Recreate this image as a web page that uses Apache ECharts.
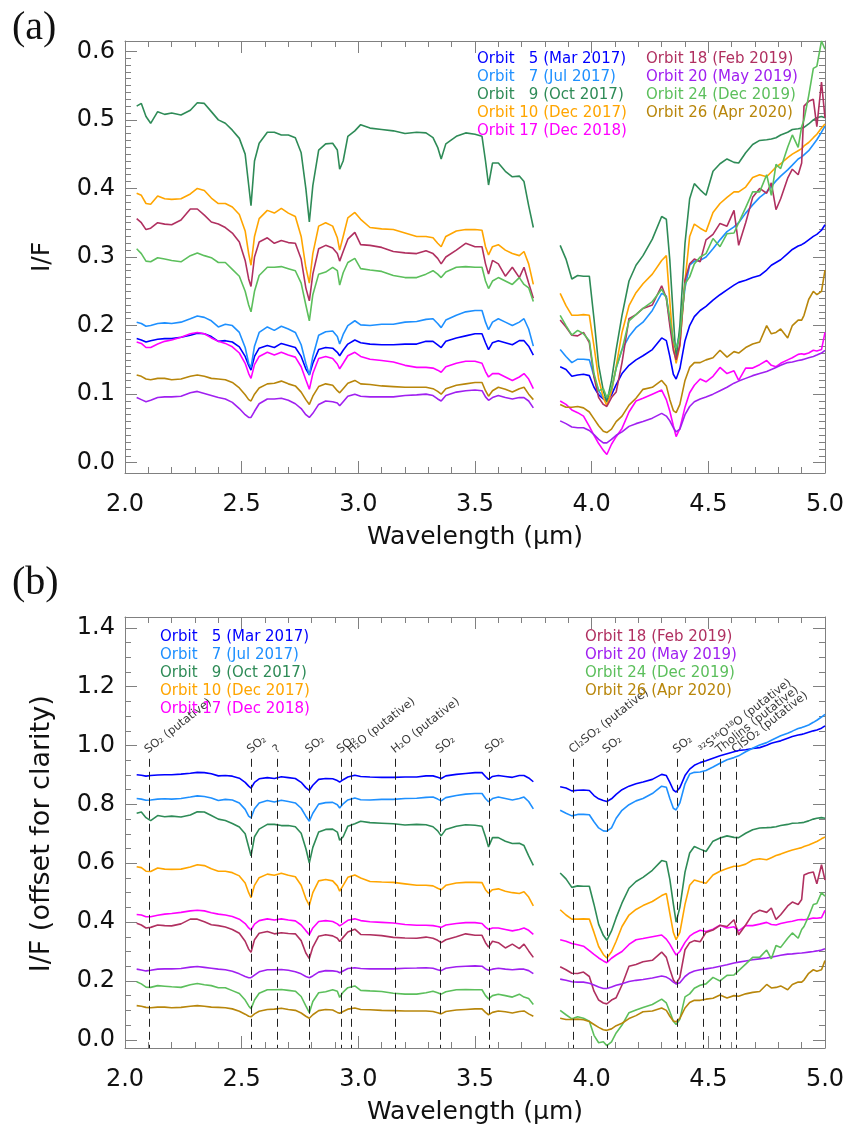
<!DOCTYPE html>
<html>
<head>
<meta charset="utf-8">
<script src="https://cdn.jsdelivr.net/npm/echarts@6/dist/echarts.min.js"></script>
<style>
  html, body { margin: 0; padding: 0; background: #fff; }
  #main { width: 852px; height: 1128px; }
</style>
</head>
<body>
<div id="main"></div>
<script>
// wavelength grid in µm; 3.81 marks the gap between the two spectral segments
const wavelength = [
  2.05, 2.07, 2.09, 2.11, 2.14, 2.17, 2.20, 2.24, 2.28, 2.31,
  2.34, 2.37, 2.40, 2.43, 2.46, 2.49, 2.515, 2.53, 2.54, 2.555,
  2.575, 2.61, 2.64, 2.67, 2.70, 2.73, 2.755, 2.775, 2.79, 2.805,
  2.83, 2.86, 2.89, 2.91, 2.92, 2.935, 2.955, 2.985, 3.01, 3.05,
  3.10, 3.15, 3.20, 3.25, 3.29, 3.32, 3.34, 3.355, 3.375, 3.42,
  3.46, 3.50, 3.53, 3.545, 3.558, 3.575, 3.60, 3.63, 3.66, 3.69,
  3.71, 3.73, 3.75,
  3.81,
  3.865, 3.89, 3.915, 3.94, 3.965, 3.99, 4.01, 4.03, 4.05, 4.065,
  4.085, 4.105, 4.13, 4.16, 4.19, 4.22, 4.26, 4.30, 4.32, 4.335,
  4.35, 4.362, 4.378, 4.40, 4.42, 4.44, 4.465, 4.49, 4.52, 4.55,
  4.58, 4.61, 4.63, 4.66, 4.69, 4.72, 4.75, 4.77, 4.79, 4.81,
  4.84, 4.86, 4.885, 4.90, 4.91, 4.93, 4.95, 4.965, 4.985, 5.0
];

// I/F for each orbit (panel a), null = gap
const orbit5 = [
  0.181, 0.179, 0.176, 0.178, 0.18, 0.181, 0.181, 0.183, 0.186, 0.189,
  0.188, 0.184, 0.177, 0.178, 0.176, 0.169, 0.155, 0.142, 0.135, 0.155,
  0.167, 0.171, 0.168, 0.174, 0.171, 0.168, 0.155, 0.137, 0.128, 0.145,
  0.165, 0.168, 0.167, 0.161, 0.156, 0.164, 0.173, 0.179, 0.175, 0.173,
  0.172, 0.172, 0.173, 0.173, 0.177, 0.177, 0.172, 0.168, 0.177, 0.182,
  0.185, 0.188, 0.188, 0.175, 0.165, 0.175, 0.178, 0.175, 0.172, 0.178,
  0.178, 0.17, 0.157,
  null,
  0.14, 0.136, 0.126, 0.128, 0.129, 0.127, 0.11, 0.099, 0.093, 0.09,
  0.099, 0.114, 0.13, 0.142, 0.15, 0.156, 0.165, 0.182, 0.178, 0.155,
  0.129, 0.122, 0.137, 0.178, 0.2, 0.213, 0.222, 0.228, 0.237, 0.245,
  0.252, 0.259, 0.263, 0.266, 0.27, 0.273, 0.281, 0.288, 0.292, 0.296,
  0.305, 0.311, 0.316, 0.318, 0.32, 0.325, 0.33, 0.333, 0.339, 0.347
];
const orbit7 = [
  0.205, 0.203, 0.199, 0.2, 0.203, 0.204, 0.203, 0.205, 0.21, 0.214,
  0.212, 0.207, 0.198, 0.202, 0.2, 0.19, 0.168, 0.145, 0.139, 0.17,
  0.19, 0.198, 0.193, 0.199, 0.195, 0.19, 0.172, 0.145, 0.128, 0.155,
  0.186, 0.191, 0.192, 0.184, 0.173, 0.187, 0.2, 0.207, 0.201, 0.2,
  0.202, 0.202, 0.205, 0.206, 0.209, 0.21, 0.203, 0.197, 0.208, 0.215,
  0.22, 0.222, 0.222, 0.205, 0.194, 0.205, 0.21, 0.205, 0.2, 0.205,
  0.21, 0.195, 0.17,
  null,
  0.165, 0.155, 0.146, 0.151, 0.151, 0.15, 0.126, 0.105, 0.095, 0.094,
  0.105, 0.138, 0.165, 0.184, 0.197, 0.205, 0.222, 0.247, 0.243, 0.205,
  0.172, 0.166, 0.19, 0.255, 0.288, 0.294, 0.295, 0.3, 0.312, 0.325,
  0.337, 0.344, 0.35, 0.364, 0.376, 0.387, 0.395, 0.403, 0.411, 0.418,
  0.427, 0.434, 0.443, 0.446, 0.449, 0.455, 0.464, 0.471, 0.482, 0.491
];
const orbit9 = [
  0.52, 0.524, 0.505, 0.495, 0.512, 0.508, 0.51, 0.507, 0.514, 0.525,
  0.524, 0.512, 0.5, 0.495, 0.485, 0.473, 0.45, 0.405, 0.375, 0.44,
  0.466, 0.482, 0.482, 0.478, 0.478, 0.474, 0.452, 0.4, 0.351, 0.404,
  0.456, 0.465, 0.466, 0.456, 0.428, 0.44, 0.476, 0.484, 0.493, 0.488,
  0.486, 0.484, 0.48, 0.482, 0.481, 0.474, 0.46, 0.443, 0.465, 0.476,
  0.481, 0.479, 0.476, 0.44, 0.405, 0.437, 0.437, 0.425, 0.417, 0.418,
  0.41, 0.375, 0.343,
  null,
  0.317, 0.297, 0.268, 0.273, 0.272, 0.272, 0.21, 0.142, 0.105, 0.088,
  0.12, 0.165, 0.215, 0.265, 0.288, 0.302, 0.326, 0.359, 0.355, 0.295,
  0.212, 0.15, 0.2, 0.32, 0.385, 0.407, 0.398, 0.39, 0.425, 0.436,
  0.443, 0.438, 0.437, 0.452, 0.464, 0.47, 0.471, 0.472, 0.474, 0.478,
  0.482, 0.486, 0.487, 0.488, 0.489, 0.494, 0.5, 0.503, 0.505, 0.503
];
const orbit10 = [
  0.393, 0.39, 0.378, 0.377, 0.389, 0.385, 0.384, 0.385, 0.392, 0.4,
  0.397, 0.386, 0.378, 0.378, 0.373, 0.362, 0.338, 0.305, 0.288, 0.33,
  0.356, 0.368, 0.364, 0.371, 0.364, 0.359, 0.33, 0.285, 0.262, 0.305,
  0.345, 0.35, 0.345, 0.328, 0.31, 0.33, 0.357, 0.365, 0.355, 0.343,
  0.341, 0.34, 0.335, 0.33, 0.33, 0.328, 0.32, 0.315, 0.33, 0.338,
  0.34, 0.34, 0.339, 0.315, 0.303, 0.315, 0.318, 0.31, 0.305, 0.302,
  0.308, 0.29, 0.26,
  null,
  0.247, 0.229, 0.215, 0.215, 0.216, 0.215, 0.17, 0.122, 0.095, 0.083,
  0.104, 0.14, 0.19, 0.229, 0.248, 0.261, 0.275, 0.295, 0.302, 0.235,
  0.17, 0.145, 0.17, 0.265, 0.33, 0.348, 0.342, 0.337, 0.365, 0.378,
  0.387, 0.395, 0.395, 0.402, 0.416, 0.42, 0.417, 0.424, 0.431, 0.436,
  0.445, 0.45, 0.455, 0.458, 0.462, 0.467, 0.474, 0.479, 0.488, 0.494
];
const orbit17 = [
  0.176, 0.174, 0.168, 0.168, 0.173, 0.177, 0.179, 0.183, 0.188, 0.19,
  0.188, 0.182, 0.177, 0.174, 0.169, 0.16, 0.145, 0.13, 0.123, 0.143,
  0.155, 0.161, 0.157, 0.161, 0.157, 0.154, 0.14, 0.121, 0.107, 0.13,
  0.152, 0.155, 0.152, 0.144, 0.137, 0.145, 0.156, 0.161, 0.155, 0.151,
  0.149, 0.147, 0.142, 0.139, 0.139, 0.138, 0.135, 0.132, 0.14, 0.145,
  0.148, 0.148, 0.145, 0.133, 0.125, 0.13, 0.13, 0.125, 0.12, 0.125,
  0.13, 0.122, 0.108,
  null,
  0.09, 0.085, 0.077, 0.073, 0.068, 0.053, 0.04, 0.028, 0.018, 0.012,
  0.027, 0.038, 0.05, 0.074, 0.09, 0.094, 0.1, 0.106, 0.092, 0.075,
  0.054, 0.038, 0.05, 0.081, 0.102, 0.113, 0.122, 0.118, 0.126, 0.139,
  0.13, 0.134, 0.12, 0.138, 0.138, 0.143, 0.149, 0.142, 0.14, 0.145,
  0.15, 0.153, 0.158, 0.159, 0.158, 0.16, 0.164, 0.163, 0.165, 0.19
];
const orbit18 = [
  0.356, 0.35, 0.34, 0.342, 0.35, 0.348, 0.347, 0.354, 0.37, 0.37,
  0.361, 0.351, 0.348, 0.343, 0.335, 0.322, 0.295, 0.268, 0.257, 0.3,
  0.322, 0.328, 0.32, 0.324, 0.321, 0.32, 0.297, 0.255, 0.236, 0.275,
  0.312, 0.317, 0.313, 0.305, 0.294, 0.308, 0.326, 0.336, 0.318, 0.317,
  0.314, 0.308, 0.306, 0.305, 0.309, 0.305, 0.298, 0.29, 0.3, 0.31,
  0.32, 0.315, 0.315, 0.29, 0.275, 0.295, 0.29, 0.272, 0.285, 0.27,
  0.285, 0.262, 0.24,
  null,
  0.208, 0.198, 0.186, 0.185, 0.19, 0.175, 0.125, 0.095, 0.085, 0.082,
  0.095, 0.103, 0.146, 0.21, 0.216, 0.225, 0.23, 0.258, 0.24, 0.2,
  0.164, 0.15, 0.172, 0.266, 0.29, 0.297, 0.293, 0.325, 0.333, 0.349,
  0.345, 0.368, 0.317, 0.35, 0.387, 0.4, 0.393, 0.408, 0.369, 0.385,
  0.415, 0.428, 0.42, 0.437, 0.52, 0.527, 0.53, 0.49, 0.555, 0.503
];
const orbit20 = [
  0.095, 0.092, 0.089, 0.091, 0.095, 0.096, 0.096, 0.097, 0.102, 0.104,
  0.101, 0.098, 0.095, 0.093, 0.088, 0.079, 0.07, 0.066, 0.066, 0.075,
  0.086, 0.093, 0.093, 0.094, 0.091, 0.086, 0.079, 0.07, 0.066, 0.072,
  0.085, 0.09, 0.089, 0.087, 0.083, 0.089, 0.097, 0.1, 0.097, 0.096,
  0.096, 0.096, 0.098, 0.099, 0.1, 0.098, 0.093, 0.09, 0.098, 0.103,
  0.105, 0.106, 0.105, 0.096, 0.091, 0.095, 0.098, 0.095, 0.093, 0.095,
  0.095, 0.09, 0.08,
  null,
  0.061, 0.057, 0.052, 0.051, 0.051, 0.047, 0.041, 0.034, 0.029, 0.029,
  0.034, 0.04, 0.045, 0.053, 0.057, 0.06, 0.065, 0.072, 0.068, 0.061,
  0.051, 0.045, 0.049, 0.07, 0.082, 0.089, 0.093, 0.096, 0.1, 0.105,
  0.11, 0.116, 0.119, 0.123, 0.127, 0.13, 0.133, 0.136, 0.139, 0.142,
  0.146, 0.147, 0.149, 0.15, 0.151, 0.153, 0.155, 0.157, 0.16, 0.164
];
const orbit24 = [
  0.312, 0.305, 0.294, 0.293, 0.299, 0.297, 0.295, 0.293, 0.302, 0.306,
  0.302, 0.299, 0.292, 0.292, 0.282, 0.272, 0.25, 0.23, 0.22, 0.25,
  0.273, 0.285, 0.285, 0.286, 0.283, 0.28, 0.262, 0.23, 0.207, 0.245,
  0.275, 0.278, 0.285, 0.28, 0.259, 0.277, 0.292, 0.298, 0.283, 0.281,
  0.279, 0.273, 0.27, 0.27, 0.275, 0.28, 0.275, 0.27, 0.278, 0.285,
  0.286, 0.285, 0.285, 0.265, 0.254, 0.265, 0.27, 0.265, 0.26, 0.27,
  0.26, 0.255, 0.235,
  null,
  0.215, 0.2, 0.186, 0.193, 0.188, 0.178, 0.13, 0.105, 0.108, 0.095,
  0.108, 0.138, 0.165, 0.207, 0.216, 0.225, 0.235, 0.253, 0.24, 0.21,
  0.178, 0.167, 0.185, 0.261, 0.271, 0.29, 0.3, 0.305, 0.327, 0.315,
  0.334, 0.335, 0.35, 0.372, 0.395, 0.395, 0.42, 0.39, 0.435, 0.429,
  0.46, 0.478, 0.46, 0.49, 0.5, 0.535, 0.575, 0.578, 0.615, 0.603
];
const orbit26 = [
  0.128, 0.126, 0.122, 0.121, 0.123, 0.123, 0.121, 0.122, 0.126, 0.128,
  0.126, 0.123, 0.122, 0.121, 0.117, 0.109, 0.099, 0.092, 0.09, 0.1,
  0.109, 0.115, 0.116, 0.119, 0.115, 0.112, 0.103, 0.092, 0.085, 0.097,
  0.111, 0.115, 0.113, 0.105, 0.102, 0.108, 0.116, 0.12, 0.115, 0.114,
  0.112, 0.111, 0.11, 0.11, 0.11, 0.108, 0.104, 0.1, 0.108, 0.113,
  0.115, 0.117, 0.117, 0.105, 0.097, 0.105, 0.11, 0.107, 0.103, 0.108,
  0.11, 0.1, 0.092,
  null,
  0.085, 0.081, 0.081, 0.082, 0.08, 0.074, 0.064, 0.054, 0.046, 0.044,
  0.049, 0.06, 0.068, 0.084, 0.094, 0.107, 0.11, 0.12, 0.112, 0.092,
  0.076, 0.073, 0.085, 0.12, 0.139, 0.146, 0.146, 0.15, 0.153, 0.164,
  0.154, 0.162, 0.16, 0.168, 0.173, 0.176, 0.2, 0.188, 0.19, 0.195,
  0.182, 0.2, 0.208, 0.208, 0.215, 0.238, 0.25, 0.245, 0.25, 0.281
];

const orbitNames = [
  'Orbit   5 (Mar 2017)', 'Orbit   7 (Jul 2017)', 'Orbit   9 (Oct 2017)',
  'Orbit 10 (Dec 2017)', 'Orbit 17 (Dec 2018)', 'Orbit 18 (Feb 2019)',
  'Orbit 20 (May 2019)', 'Orbit 24 (Dec 2019)', 'Orbit 26 (Apr 2020)'
];
const orbitColors = [
  '#0000ff', '#1e90ff', '#2e8b57', '#ffa500', '#ff00ff',
  '#b03060', '#a020f0', '#5cbf5c', '#b8860b'
];
// vertical offsets used in panel (b)
const offsets = [0.72, 0.615, 0.25, 0.195, 0.25, 0.04, 0.145, -0.115, -0.012];

// absorption band markers in panel (b)
const bandWl = [2.102, 2.541, 2.652, 2.791, 2.926, 2.970, 3.160, 3.350, 3.561,
                3.921, 4.065, 4.367, 4.478, 4.550, 4.619];
const bandLabels = ['SO₂ (putative)', 'SO₂', '?', 'SO₂', 'SO₂', 'H₂O (putative)',
                    'H₂O (putative)', 'SO₂', 'SO₂', 'Cl₂SO₂ (putative)', 'SO₂', 'SO₂',
                    '³²S¹⁶O¹⁸O (putative)', 'Tholins (putative)', 'ClSO₂ (putative)'];

const spectra = [orbit5, orbit7, orbit9, orbit10, orbit17, orbit18, orbit20, orbit24, orbit26];

const chart = echarts.init(document.getElementById('main'));
const grey = '#808080';
const font = 'DejaVu Sans';

function frameX(grid, pos, withLabels) {
  const ax = {
    type: 'value', gridIndex: grid, position: pos, min: 2, max: 5, interval: 0.5,
    axisLine: { show: true, onZero: false, lineStyle: { color: grey, width: 1 } },
    axisTick: { show: true, inside: true, length: 12, lineStyle: { color: grey } },
    minorTick: { show: true, splitNumber: 5, length: 6, lineStyle: { color: grey } },
    splitLine: { show: false },
    axisLabel: { show: withLabels, margin: 20, fontSize: 24, color: '#111', fontFamily: font,
                 formatter: v => v.toFixed(1) }
  };
  if (withLabels) {
    ax.name = 'Wavelength (μm)';
    ax.nameLocation = 'middle';
    ax.nameGap = 52;
    ax.nameTextStyle = { fontSize: 25, color: '#111', fontFamily: font };
  }
  return ax;
}
function hiddenX(grid) {
  return { type: 'value', gridIndex: grid, min: 2, max: 5, show: false };
}
function frameY(grid, pos, min, max) {
  return {
    type: 'value', gridIndex: grid, position: pos, min: min, max: max,
    axisLine: { show: true, onZero: false, lineStyle: { color: grey, width: 1 } },
    axisTick: { show: false }, axisLabel: { show: false }, splitLine: { show: false }
  };
}
function dataY(grid, pos, max, interval, minorSplit, name, nameSize) {
  const ax = {
    type: 'value', gridIndex: grid, position: pos, min: 0, max: max, interval: interval,
    axisLine: { show: false, onZero: false },
    axisTick: { show: true, inside: true, length: 12, lineStyle: { color: grey } },
    minorTick: { show: true, splitNumber: minorSplit, length: 6, lineStyle: { color: grey } },
    splitLine: { show: false },
    axisLabel: { show: !!name, margin: 10, fontSize: 24, color: '#111', fontFamily: font,
                 formatter: v => v.toFixed(1) }
  };
  if (name) {
    ax.name = name;
    ax.nameLocation = 'middle';
    ax.nameGap = 70;
    ax.nameTextStyle = { fontSize: nameSize, color: '#111', fontFamily: font };
  }
  return ax;
}

function lineSeries(i, xIdx, yIdx, off) {
  return {
    name: orbitNames[i], type: 'line', xAxisIndex: xIdx, yAxisIndex: yIdx,
    data: wavelength.map((w, j) => [w, spectra[i][j] == null ? '-' : +(spectra[i][j] + off).toFixed(4)]),
    symbol: 'none', showSymbol: false, clip: false, connectNulls: false,
    lineStyle: { color: orbitColors[i], width: 1.6 },
    itemStyle: { color: orbitColors[i] },
    emphasis: { disabled: true }, z: 3
  };
}

function legendCol(left, top, from, to) {
  return {
    left: left, top: top, orient: 'vertical', icon: 'none', itemWidth: 0, itemHeight: 18,
    itemGap: 0, padding: 0, selectedMode: false,
    textStyle: { fontSize: 15, fontFamily: font, lineHeight: 18 },
    data: orbitNames.slice(from, to).map((n, k) => ({ name: n, textStyle: { color: orbitColors[from + k] } }))
  };
}

const series = [];
spectra.forEach((s, i) => series.push(lineSeries(i, 2, 2, 0)));
spectra.forEach((s, i) => series.push(lineSeries(i, 5, 6, offsets[i])));
series.push({
  type: 'scatter', xAxisIndex: 3, yAxisIndex: 4, symbolSize: 0, silent: true, z: 2,
  data: bandWl.map((w, i) => [w, 0.965, bandLabels[i]]),
  label: {
    show: true, formatter: p => p.value[2], position: [1, 0], rotate: 38,
    align: 'left', verticalAlign: 'bottom', fontSize: 11.5, color: '#000', fontFamily: font
  },
  markLine: {
    silent: true, symbol: ['none', 'none'], animation: false, label: { show: false },
    lineStyle: { color: '#222', width: 1, type: [8, 5] },
    data: bandWl.map(w => [{ coord: [w, 0.955] }, { coord: [w, -0.028] }])
  }
});

chart.setOption({
  animation: false,
  backgroundColor: '#fff',
  grid: [
    { left: 125, top: 41, width: 700, height: 432 },
    { left: 125, top: 51.29, width: 700, height: 411.43 },
    { left: 125, top: 617, width: 700, height: 431 },
    { left: 125, top: 627.88, width: 700, height: 411.88 }
  ],
  xAxis: [
    frameX(0, 'bottom', true), frameX(0, 'top', false), hiddenX(1),
    frameX(2, 'bottom', true), frameX(2, 'top', false), hiddenX(3)
  ],
  yAxis: [
    frameY(0, 'left', -0.015, 0.615), frameY(0, 'right', -0.015, 0.615),
    dataY(1, 'left', 0.6, 0.1, 10, 'I/F', 25), dataY(1, 'right', 0.6, 0.1, 10, null, 25),
    frameY(2, 'left', -0.028, 1.437), frameY(2, 'right', -0.028, 1.437),
    dataY(3, 'left', 1.4, 0.2, 4, 'I/F (offset for clarity)', 27), dataY(3, 'right', 1.4, 0.2, 4, null, 27)
  ],
  legend: [
    legendCol(472, 50, 0, 5), legendCol(641, 50, 5, 9),
    legendCol(155, 628, 0, 5), legendCol(580, 628, 5, 9)
  ],
  graphic: [
    { type: 'text', left: 12, top: 8, style: { text: '(a)', font: '40px "Liberation Serif"', fill: '#111' } },
    { type: 'text', left: 12, top: 563, style: { text: '(b)', font: '40px "Liberation Serif"', fill: '#111' } }
  ],
  series: series
});
</script>
</body>
</html>
